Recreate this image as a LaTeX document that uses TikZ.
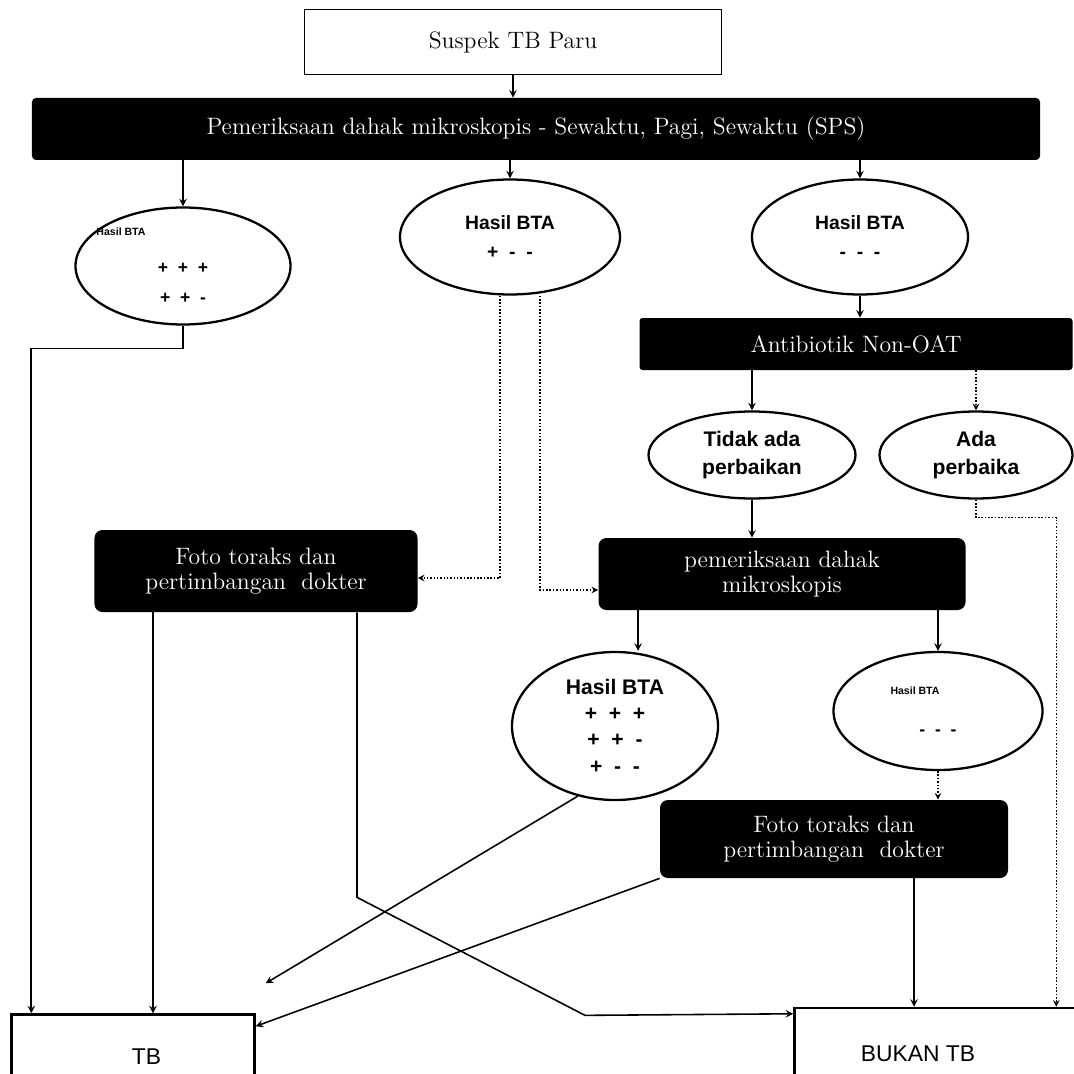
\documentclass[tikz,border=0pt]{standalone}
\usepackage{fontspec}
\setsansfont{Liberation Sans}
\usetikzlibrary{shapes.geometric}

\tikzset{
  darkbox/.style={fill=black, text=white, rounded corners=1.6mm, font=\fontsize{13.5}{14.5}\selectfont, align=center, inner sep=0pt},
  whitebox/.style={draw, line width=1pt, inner sep=0pt},
  oval/.style={ellipse, draw, line width=1.3pt, inner sep=0pt, align=center, font=\sffamily\bfseries},
  link/.style={->, >=stealth, line width=0.9pt},
  faint/.style={link, densely dotted, line width=0.7pt}
}

\begin{document}
\begin{tikzpicture}[x=0.2mm, y=-0.2mm]
    \useasboundingbox (0,0) rectangle (1073,1074);

    \node[whitebox, minimum width=83.4mm, minimum height=13mm, font=\fontsize{13.5}{15}\selectfont] (suspek) at (513,42) {Suspek TB Paru};
    \node[darkbox, rounded corners=0.8mm, minimum width=201.6mm, minimum height=12.4mm] (sps) at (536,129) {Pemeriksaan dahak mikroskopis - Sewaktu, Pagi, Sewaktu (SPS)};

    \node[oval, minimum width=43mm, minimum height=23.4mm] (hasilA) at (183,266) {\hspace*{-24.8mm}{\fontsize{6}{7}\selectfont Hasil BTA}\\[3.4mm] +\ \ +\ \ +\\[1.8mm] +\ \ +\ \ -};
    \node[oval, minimum width=44mm, minimum height=23mm, font=\sffamily\bfseries\fontsize{11}{17}\selectfont] (hasilB) at (510,237) {Hasil BTA\\ +\ \ -\ \ -};
    \node[oval, minimum width=43.2mm, minimum height=23mm, font=\sffamily\bfseries\fontsize{11}{17}\selectfont] (hasilC) at (860,237) {Hasil BTA\\ -\ \ -\ \ -};

    \node[darkbox, rounded corners=0.6mm, minimum width=86.6mm, minimum height=10.4mm] (antibiotik) at (856,344) {Antibiotik Non-OAT};
    \node[oval, minimum width=41.4mm, minimum height=17.4mm, font=\sffamily\bfseries\fontsize{12}{16}\selectfont] (tidak) at (752,455) {Tidak ada\\ perbaikan};
    \node[oval, minimum width=38.6mm, minimum height=17.4mm, font=\sffamily\bfseries\fontsize{12}{16}\selectfont] (ada) at (976,455) {Ada\\ perbaika};

    \node[darkbox, minimum width=64.6mm, minimum height=16.4mm] (fotoA) at (256,571) {Foto toraks dan\\ pertimbangan\ \ dokter};
    \node[darkbox, minimum width=73.4mm, minimum height=14.4mm] (periksa) at (782,574) {pemeriksaan dahak\\ mikroskopis};

    \node[oval, minimum width=41.2mm, minimum height=29.6mm, font=\sffamily\bfseries\fontsize{12}{15}\selectfont] (hasilD) at (615,726) {Hasil BTA\\ +\ \ +\ \ +\\ +\ \ +\ \ -\\ +\ \ -\ \ -};
    \node[oval, minimum width=41.8mm, minimum height=23.6mm] (hasilE) at (938,711) {\hspace*{-9.2mm}{\fontsize{6}{7}\selectfont Hasil BTA}\\[4mm] -\ \ -\ \ -};
    \node[darkbox, minimum width=69.6mm, minimum height=15.6mm] (fotoB) at (834,839) {Foto toraks dan\\ pertimbangan\ \ dokter};

    \node[whitebox, line width=1.4pt, minimum width=48.6mm, minimum height=17mm, font=\sffamily\fontsize{13}{15}\selectfont] (tb) at (133,1057) {\hspace*{5.4mm}TB};
    \node[whitebox, line width=1.4pt, minimum width=59mm, minimum height=18.4mm, font=\sffamily\fontsize{13}{15}\selectfont] (bukan) at (942,1054) {BUKAN TB\hspace*{9.6mm}};

    % arrows
    \draw[link] (suspek.south) -- (suspek.south |- sps.north);
    \draw[link] (hasilA.north |- sps.south) -- (hasilA.north);
    \draw[link] (hasilB.north |- sps.south) -- (hasilB.north);
    \draw[link] (hasilC.north |- sps.south) -- (hasilC.north);

    \draw[link] (hasilA.south) -- ++(0,23) -| ([xshift=4.2mm]tb.north west);
    \draw[faint] ([xshift=-2mm]hasilB.south) |- ([yshift=-1.4mm]fotoA.east);
    \draw[faint] ([xshift=6mm]hasilB.south) |- ([yshift=-3.2mm]periksa.west);

    \draw[link] (hasilC.south) -- (hasilC.south |- antibiotik.north);
    \draw[link] (tidak.north |- antibiotik.south) -- (tidak.north);
    \draw[faint] (ada.north |- antibiotik.south) -- (ada.north);
    \draw[link] (tidak.south) -- (tidak.south |- periksa.north);
    \draw[faint] (ada.south) -- ++(0,18) -| ([xshift=52.6mm]bukan.north west);

    \draw[link] ([xshift=8mm]periksa.south west) -- ([xshift=8mm]periksa.south west |- hasilD.north);
    \draw[link] (hasilE.north |- periksa.south) -- (hasilE.north);
    \draw[faint] (hasilE.south) -- (hasilE.south |- fotoB.north);

    \draw[link] ([xshift=-20.6mm]fotoA.south) -- ([xshift=-20.6mm]fotoA.south |- tb.north);
    \draw[link] ([xshift=20.2mm]fotoA.south) -- ++(0,285) -- ++(228,118) -- ([yshift=-1.4mm]bukan.north west);

    \coordinate (tbgap) at ([shift={(2mm,6mm)}]tb.north east);
    \draw[link] (hasilD.242) -- (tbgap);
    \draw[link] (fotoB.south west) -- ([yshift=-2.6mm]tb.north east);
    \draw[link] ([xshift=16mm]fotoB.south) -- ([xshift=16mm]fotoB.south |- bukan.north);

\end{tikzpicture}
\end{document}
